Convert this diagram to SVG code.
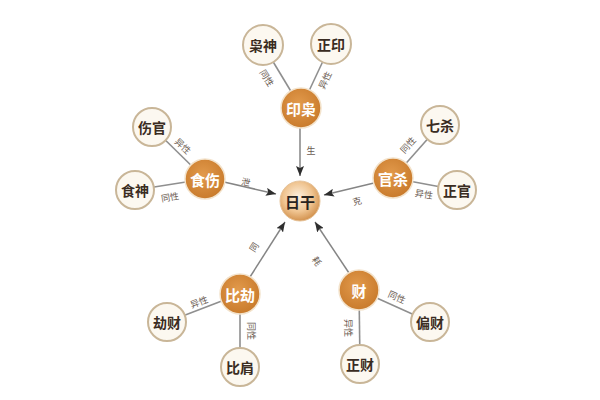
<svg xmlns="http://www.w3.org/2000/svg" width="600" height="400" viewBox="0 0 600 400">
<style>
.leaf circle{fill:#fcf8f0;stroke:#c9b698;stroke-width:2}
.leaf text{font-family:"Noto Sans CJK SC","Liberation Serif",serif;font-weight:bold;font-size:14px;fill:#3a2c22;text-anchor:middle;dominant-baseline:central}
.hub circle{fill:url(#og);stroke:#f3e3cc;stroke-width:1.5}
.hub text{font-family:"Noto Sans CJK SC","Liberation Sans",sans-serif;font-weight:bold;font-size:15px;fill:#ffffff;text-anchor:middle;dominant-baseline:central}
.core circle{fill:url(#cg);stroke:#e6c39a;stroke-width:1}
.core text{font-family:"Noto Sans CJK SC","Liberation Sans",sans-serif;font-weight:bold;font-size:15px;fill:#2a2420;text-anchor:middle;dominant-baseline:central}
.ln{stroke:#8f8f8f;stroke-width:1.6;fill:none}
.ar{stroke:#858585;stroke-width:1.5;fill:none;marker-end:url(#ah)}
.lb{font-family:"Noto Sans CJK SC","Liberation Serif",serif;font-size:9px;fill:#6b5c52;text-anchor:middle;dominant-baseline:central}
</style>
<defs>
<radialGradient id="og" cx="45%" cy="40%" r="60%">
<stop offset="0" stop-color="#e29a4c"/>
<stop offset="1" stop-color="#c97b2c"/>
</radialGradient>
<radialGradient id="cg" cx="45%" cy="40%" r="60%">
<stop offset="0" stop-color="#fdf0df"/>
<stop offset="0.6" stop-color="#f0c592"/>
<stop offset="1" stop-color="#d39350"/>
</radialGradient>
<marker id="ah" markerUnits="userSpaceOnUse" markerWidth="10" markerHeight="8" refX="10" refY="4" orient="auto">
<path d="M0,0 L10,4 L0,8 L2,4 z" fill="#2e2e2e"/>
</marker>
</defs>
<g id="connectors">
<line class="ln" x1="301" y1="108" x2="263" y2="45"/>
<line class="ln" x1="301" y1="108" x2="331" y2="44"/>
<line class="ln" x1="205" y1="179" x2="152" y2="127"/>
<line class="ln" x1="205" y1="179" x2="135" y2="190"/>
<line class="ln" x1="393" y1="178" x2="440" y2="125"/>
<line class="ln" x1="393" y1="178" x2="457" y2="190"/>
<line class="ln" x1="240" y1="294" x2="167" y2="322"/>
<line class="ln" x1="240" y1="294" x2="240" y2="367"/>
<line class="ln" x1="359" y1="290" x2="430" y2="322"/>
<line class="ln" x1="359" y1="290" x2="360" y2="364"/>
<line class="ar" x1="300" y1="128" x2="300" y2="176"/>
<line class="ar" x1="224" y1="182" x2="276" y2="194"/>
<line class="ar" x1="374" y1="183" x2="324" y2="195"/>
<line class="ar" x1="250" y1="277" x2="285" y2="222"/>
<line class="ar" x1="349" y1="273" x2="315" y2="222"/>
<text class="lb" transform="translate(267,78) rotate(58)">同性</text>
<text class="lb" transform="translate(325,80) rotate(-65)">异性</text>
<text class="lb" transform="translate(183,146) rotate(44)">异性</text>
<text class="lb" transform="translate(170,197) rotate(-10)">同性</text>
<text class="lb" transform="translate(246,182) rotate(12)">泄</text>
<text class="lb" transform="translate(408,145) rotate(-48)">同性</text>
<text class="lb" transform="translate(424,194) rotate(10)">异性</text>
<text class="lb" transform="translate(357,201) rotate(-14)">克</text>
<text class="lb" transform="translate(311,150)">生</text>
<text class="lb" transform="translate(254,247) rotate(-58)">同</text>
<text class="lb" transform="translate(199,302) rotate(-20)">异性</text>
<text class="lb" transform="translate(251,331) rotate(90)">同性</text>
<text class="lb" transform="translate(317,261) rotate(57)">耗</text>
<text class="lb" transform="translate(397,297) rotate(24)">同性</text>
<text class="lb" transform="translate(348,328) rotate(90)">异性</text>
</g>
<g id="n-rigan" class="core"><circle cx="300" cy="201" r="20"/><text x="300" y="201">日干</text></g>
<g id="n-yinxiao" class="hub"><circle cx="301" cy="108" r="20"/><text x="301" y="108">印枭</text></g>
<g id="n-xiaoshen" class="leaf"><circle cx="263" cy="45" r="20"/><text x="263" y="45">枭神</text></g>
<g id="n-zhengyin" class="leaf"><circle cx="331" cy="44" r="20"/><text x="331" y="44">正印</text></g>
<g id="n-shishang" class="hub"><circle cx="205" cy="179" r="20"/><text x="205" y="179">食伤</text></g>
<g id="n-shangguan" class="leaf"><circle cx="152" cy="127" r="19"/><text x="152" y="127">伤官</text></g>
<g id="n-shishen" class="leaf"><circle cx="135" cy="190" r="19"/><text x="135" y="190">食神</text></g>
<g id="n-guansha" class="hub"><circle cx="393" cy="178" r="20"/><text x="393" y="178">官杀</text></g>
<g id="n-qisha" class="leaf"><circle cx="440" cy="125" r="19"/><text x="440" y="125">七杀</text></g>
<g id="n-zhengguan" class="leaf"><circle cx="457" cy="190" r="19"/><text x="457" y="190">正官</text></g>
<g id="n-bijie" class="hub"><circle cx="240" cy="294" r="20"/><text x="240" y="294">比劫</text></g>
<g id="n-jiecai" class="leaf"><circle cx="167" cy="322" r="19"/><text x="167" y="322">劫财</text></g>
<g id="n-bijian" class="leaf"><circle cx="240" cy="367" r="19"/><text x="240" y="367">比肩</text></g>
<g id="n-cai" class="hub"><circle cx="359" cy="290" r="20"/><text x="359" y="290">财</text></g>
<g id="n-piancai" class="leaf"><circle cx="430" cy="322" r="19"/><text x="430" y="322">偏财</text></g>
<g id="n-zhengcai" class="leaf"><circle cx="360" cy="364" r="19"/><text x="360" y="364">正财</text></g>
</svg>
